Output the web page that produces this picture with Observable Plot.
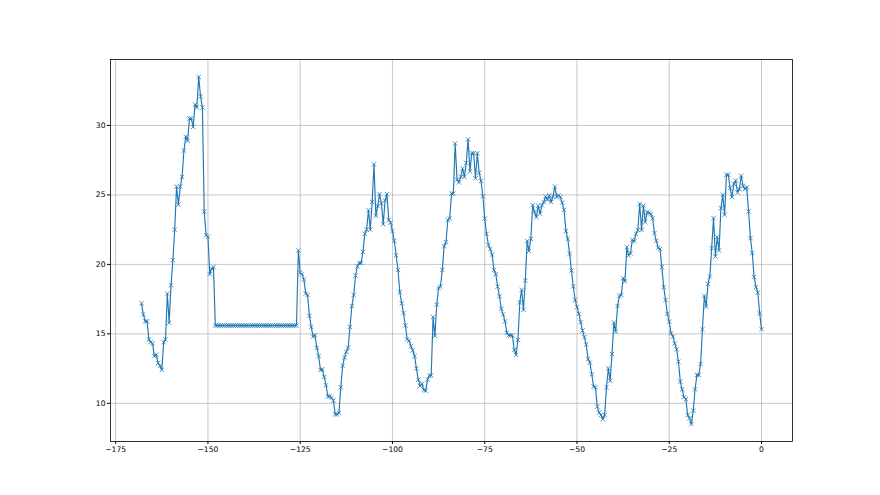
<!DOCTYPE html>
<html>
<head>
<meta charset="utf-8">
<script src="https://cdn.jsdelivr.net/npm/d3@7"></script>
<script src="https://cdn.jsdelivr.net/npm/@observablehq/plot@0.6"></script>
<style>
  html, body { margin: 0; padding: 0; background: #ffffff; }
  #chart svg { display: block; }
</style>
</head>
<body>
<div id="chart"></div>
<script>
// Hours relative to now: readings every half hour from -168 h to 0 h
const startHour = -168;
const stepHours = 0.5;

// Readings, in order, split into the stretches of the record
const tempsFirstPeak = [
  17.2, 16.4, 15.9, 15.9, 14.6, 14.4, 14.3, 13.4, 13.5, 12.9,
  12.7, 12.4, 14.4, 14.6, 17.9, 15.8, 18.5, 20.3, 22.5, 25.6,
  24.3, 25.6, 26.3, 28.2, 29.2, 28.9, 30.5, 30.5, 29.9, 31.5,
  31.3, 33.5, 32.1, 31.3, 23.8, 22.1, 22.0, 19.3, 19.7, 19.8
];
const tempsFlat = [
  15.6, 15.6, 15.6, 15.6, 15.6, 15.6, 15.6, 15.6, 15.6, 15.6,
  15.6, 15.6, 15.6, 15.6, 15.6, 15.6, 15.6, 15.6, 15.6, 15.6,
  15.6, 15.6, 15.6, 15.6, 15.6, 15.6, 15.6, 15.6, 15.6, 15.6,
  15.6, 15.6, 15.6, 15.6, 15.6, 15.6, 15.6, 15.6, 15.6, 15.6,
  15.6, 15.6, 15.6, 15.6, 15.6
];
const tempsDay5 = [
  21.0, 19.4, 19.3, 18.9, 17.9, 17.8, 16.3, 15.5, 14.8, 14.9,
  14.0, 13.4, 12.4, 12.45, 11.9, 11.3, 10.5, 10.5, 10.4, 10.2,
  9.2, 9.2, 9.3, 11.15, 12.7, 13.3, 13.7, 14.0, 15.5, 17.0,
  17.8, 19.2, 19.85, 20.1, 20.1, 20.9, 22.2, 22.5, 23.9, 22.5,
  24.5, 27.2, 23.5, 24.2, 25.06, 24.4, 22.9, 24.6, 25.06, 23.2,
  23.0, 22.4, 21.7, 20.66, 19.6, 18.0
];
const tempsDay4 = [
  17.2, 16.5, 15.6, 14.6, 14.5, 14.1, 13.8, 13.4, 12.5, 11.7,
  11.25, 11.4, 10.96, 10.9, 11.7, 12.0, 12.0, 16.2, 14.85, 17.1,
  18.3, 18.4, 19.6, 21.3, 21.6, 23.2, 23.3, 25.1, 25.1, 28.7,
  26.1, 25.9, 26.3, 26.9, 26.3, 27.3, 29.0, 26.7, 28.0, 28.0,
  26.2, 28.0, 26.6, 26.0, 24.9, 23.3, 22.2, 21.4, 21.1, 20.7,
  19.6, 19.3, 18.4, 17.7, 16.8, 16.4, 15.9
];
const tempsDay3 = [
  15.07, 14.88, 14.9, 14.88, 13.85, 13.49, 14.57, 17.26, 18.17, 16.73,
  18.84, 21.68, 20.96, 21.84, 24.27, 23.77, 23.4, 24.22, 23.65, 24.25,
  24.49, 24.89, 24.65, 24.97, 24.49, 24.89, 25.6, 24.85, 24.97, 24.85,
  24.44, 23.93, 22.4, 21.84, 20.76, 19.56, 18.41, 17.45, 16.92, 16.44,
  15.84, 15.24, 14.76, 14.23, 13.2
];
const tempsDay2 = [
  12.93, 12.09, 11.2, 11.15, 9.76, 9.33, 9.16, 8.85, 9.16, 11.15,
  12.52, 11.63, 13.55, 15.81, 15.16, 17.01, 17.73, 17.8, 19.0, 18.77,
  21.24, 20.64, 20.8, 21.77, 21.65, 22.2, 22.49, 24.36, 22.47, 24.23,
  23.05, 23.75, 23.72, 23.63, 23.32, 22.25, 21.7, 21.2, 21.1, 19.8,
  18.36, 17.44, 16.44, 15.88, 15.04, 14.8, 14.3, 13.89, 13.0, 11.56,
  11.0, 10.43
];
const tempsDay1 = [
  10.3, 9.16, 8.92, 8.5, 9.47, 11.01, 12.04, 12.04, 12.83, 15.33,
  17.73, 16.96, 18.6, 19.13, 21.17, 23.33, 20.57, 21.96, 21.0, 24.05,
  25.01, 23.57, 26.45, 26.45, 25.49, 24.84, 25.8, 26.04, 25.18, 25.42,
  26.38, 25.66, 25.42, 25.56, 23.81, 21.89, 20.81, 19.08, 18.36, 17.97,
  16.48, 15.33
];

const xTicks = [-175, -150, -125, -100, -75, -50, -25, 0];
const yTicks = [10, 15, 20, 25, 30];

const temps = [].concat(tempsFirstPeak, tempsFlat, tempsDay5, tempsDay4, tempsDay3, tempsDay2, tempsDay1);
const data = temps.map((v, i) => ({hour: startHour + i * stepHours, value: v}));

// matplotlib-style 5% margins
function padded(ext) {
  const m = (ext[1] - ext[0]) * 0.05;
  return [ext[0] - m, ext[1] + m];
}
const xDomain = padded(d3.extent(data, d => d.hour));
const yDomain = padded(d3.extent(data, d => d.value));

const fmt = d3.format("d");
const blue = "#1f77b4";

const chart = Plot.plot({
  width: 880,
  height: 495,
  marginLeft: 110,
  marginRight: 88,
  marginTop: 59,
  marginBottom: 54,
  style: {fontFamily: "DejaVu Sans", fontSize: "7.6px", background: "#ffffff", color: "#000000"},
  x: {domain: xDomain},
  y: {domain: yDomain},
  marks: [
    Plot.ruleX(xTicks, {x: d => d, stroke: "#b0b0b0", strokeWidth: 0.7}),
    Plot.ruleY(yTicks, {y: d => d, stroke: "#b0b0b0", strokeWidth: 0.7}),
    Plot.line(data, {x: "hour", y: "value", stroke: blue, strokeWidth: 1.15}),
    Plot.dot(data, {x: "hour", y: "value", symbol: "times", r: 2.1, stroke: blue, fill: "none", strokeWidth: 0.8}),
    Plot.frame({stroke: "#000000", strokeWidth: 0.8}),
    Plot.axisX({ticks: xTicks, tickFormat: fmt, tickSize: 3, tickPadding: 2, label: null}),
    Plot.axisY({ticks: yTicks, tickFormat: fmt, tickSize: 3, tickPadding: 2, label: null})
  ]
});
document.getElementById("chart").appendChild(chart);
</script>
</body>
</html>
